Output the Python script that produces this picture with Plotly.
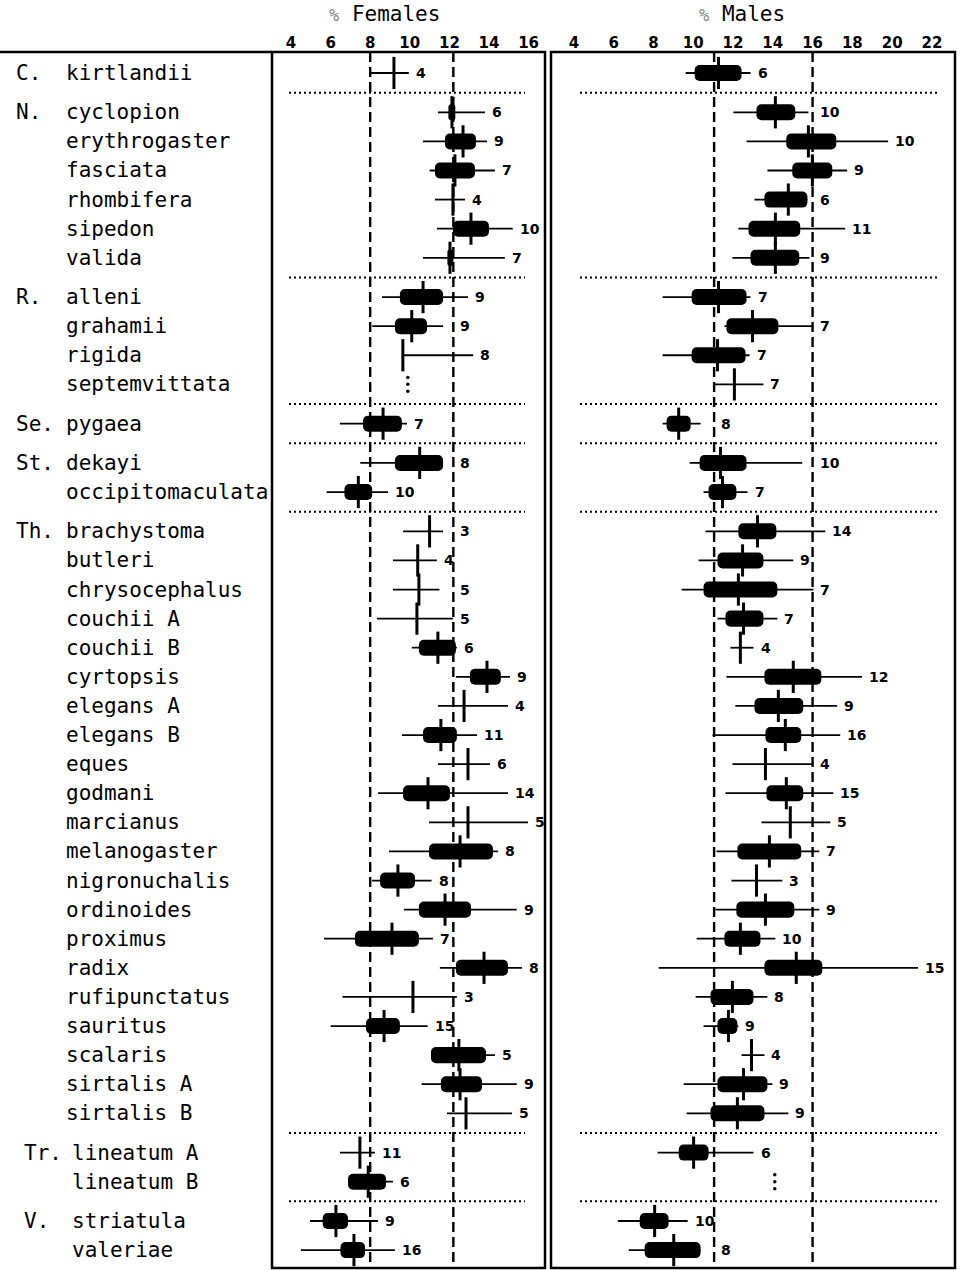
import plotly.graph_objects as go

W, H = 965, 1270

# ---- data -------------------------------------------------------------
genera = ["C.", "N.", "R.", "Se.", "St.", "Th.", "Tr.", "V."]
species = [
    ["kirtlandii"],
    ["cyclopion", "erythrogaster", "fasciata", "rhombifera", "sipedon", "valida"],
    ["alleni", "grahamii", "rigida", "septemvittata"],
    ["pygaea"],
    ["dekayi", "occipitomaculata"],
    ["brachystoma", "butleri", "chrysocephalus", "couchii A", "couchii B",
     "cyrtopsis", "elegans A", "elegans B", "eques", "godmani", "marcianus",
     "melanogaster", "nigronuchalis", "ordinoides", "proximus", "radix",
     "rufipunctatus", "sauritus", "scalaris", "sirtalis A", "sirtalis B"],
    ["lineatum A", "lineatum B"],
    ["striatula", "valeriae"],
]

# % Females: range (lo, hi), box (box_lo, box_hi), mean, sample size
f_lo = [8.0, 11.42, 10.67, 11.0, 11.27, 11.37, 10.67, 8.6, 8.1, 9.6, None, 6.47,
        7.5, 5.8, 9.66, 9.15, 9.15, 8.34, 10.1, 12.33, 11.42, 9.6, 11.42, 8.4,
        10.97, 8.95, 8.1, 9.7, 5.67, 11.52, 6.6, 6.0, 11.07, 10.6, 11.88, 6.47,
        6.88, 4.96, 4.5]
f_hi = [9.95, 13.8, 13.9, 14.3, 12.79, 15.2, 14.8, 12.94, 11.68, 13.2, None, 9.86,
        11.68, 8.9, 11.68, 11.37, 11.5, 12.18, 12.38, 15.06, 14.96, 13.4, 14.05,
        14.96, 15.97, 14.45, 11.1, 15.4, 11.17, 15.67, 12.38, 10.9, 14.3, 15.4,
        15.16, 8.24, 9.15, 8.4, 9.25]
f_box_lo = [None, 11.95, 11.78, 11.27, None, 12.18, 11.9, 9.5, 9.25, None, None,
            7.64, 9.25, 6.7, None, None, None, None, 10.46, 13.04, None, 10.67,
            None, 9.66, None, 10.97, 8.5, 10.46, 7.23, 12.33, None, 7.79, 11.07,
            11.57, None, None, 6.88, 5.6, 6.5]
f_box_hi = [None, 12.3, 13.34, 13.29, None, 14.0, 12.2, 11.68, 10.87, None, None,
            9.6, 11.68, 8.1, None, None, None, None, 12.33, 14.6, None, 12.38,
            None, 12.03, None, 14.2, 10.26, 13.09, 10.46, 14.96, None, 9.5, 13.85,
            13.65, None, None, 8.8, 6.88, 7.74]
f_mean = [9.2, 12.13, 12.69, 12.28, 12.18, 13.09, 12.03, 10.67, 10.1, 9.65, None,
          8.65, 10.5, 7.4, 11.0, 10.4, 10.46, 10.36, 11.42, 13.9, 12.74, 11.57,
          12.94, 10.92, 12.94, 12.54, 9.4, 11.78, 9.1, 13.75, 10.16, 8.7, 12.48,
          12.54, 12.84, 7.48, 7.9, 6.27, 7.18]
f_n = [4, 6, 9, 7, 4, 10, 7, 9, 9, 8, None, 7, 8, 10, 3, 4, 5, 5, 6, 9, 4, 11, 6,
       14, 5, 8, 8, 9, 7, 8, 3, 15, 5, 9, 5, 11, 6, 9, 16]
f_nodata = {"septemvittata": 9.9}

# % Males
m_lo = [9.62, 12.02, 12.68, 13.73, 13.08, 12.27, 11.97, 8.46, 11.57, 8.46, 11.07,
        8.46, 9.82, 10.52, 10.62, 10.27, 9.42, 11.22, 11.87, 11.67, 12.12, 10.97,
        11.97, 11.62, 13.43, 11.17, 11.92, 11.12, 10.17, 8.26, 10.12, 10.52,
        12.43, 9.52, 9.67, 8.21, None, 6.21, 6.76]
m_hi = [12.88, 15.79, 19.8, 17.74, 15.74, 17.64, 15.84, 12.88, 15.99, 12.83, 13.53,
        10.37, 15.48, 12.73, 16.64, 15.03, 16.04, 14.23, 13.03, 18.49, 17.24,
        17.39, 16.04, 17.04, 16.89, 16.34, 14.48, 16.34, 14.13, 21.3, 13.73,
        12.27, 13.58, 13.98, 14.78, 13.03, None, 9.72, 10.37]
m_box_lo = [10.07, 13.18, 14.68, 14.98, 13.58, 12.78, 12.88, 9.92, 11.67, 9.92,
            None, 8.66, 10.32, 10.77, 12.27, 11.22, 10.52, 11.62, None, 13.58,
            13.08, 13.63, None, 13.68, None, 12.22, None, 12.17, 11.57, 13.58,
            10.87, 11.22, None, 11.22, 10.87, 9.27, None, 7.31, 7.56]
m_box_hi = [12.43, 15.13, 17.19, 16.99, 15.74, 15.38, 15.33, 12.68, 14.28, 12.63,
            None, 9.87, 12.68, 12.17, 14.18, 13.53, 14.23, 13.53, None, 16.44,
            15.53, 15.43, None, 15.53, None, 15.43, None, 15.08, 13.38, 16.49,
            13.03, 12.22, None, 13.73, 13.58, 10.77, None, 8.76, 10.37]
m_mean = [11.27, 14.13, 15.79, 15.99, 14.78, 14.13, 14.13, 11.27, 12.98, 11.22,
          12.07, 9.27, 11.37, 11.47, 13.23, 12.48, 12.27, 12.53, 12.37, 15.03,
          14.28, 14.63, 13.63, 14.68, 14.88, 13.83, 13.18, 13.63, 12.37, 15.18,
          11.97, 11.77, 12.93, 12.53, 12.22, 10.02, None, 8.06, 9.02]
m_n = [6, 10, 10, 9, 6, 11, 9, 7, 7, 7, 7, 8, 10, 7, 14, 9, 7, 7, 4, 12, 9, 16, 4,
       15, 5, 7, 3, 9, 10, 15, 8, 9, 4, 9, 9, 6, None, 10, 8]
m_nodata = {"lineatum B": 14.1}

f_ref = [8.0, 12.2]     # dashed reference lines
m_ref = [11.05, 16.0]
f_ticks = [4, 6, 8, 10, 12, 14, 16]
m_ticks = [4, 6, 8, 10, 12, 14, 16, 18, 20, 22]

# ---- geometry ---------------------------------------------------------
TOP, BOT = 52, 1268          # panel frame (px)
ROW0, ROW_H, GAP = 73, 29.1, 0.35
F_X0, F_X1 = 272, 545
M_X0, M_X1 = 551, 955
f_range = [3.04, 16.83]
m_range = [2.85, 23.16]

y_top = -(ROW0 - TOP) / ROW_H
y_bot = y_top + (BOT - TOP) / ROW_H

def px(x):
    return x / W

def py(y):
    return 1 - y / H

rows_y, row_names, first_rows, sep_y = [], [], [], []
i = 0
for g, names in enumerate(species):
    for k, nm in enumerate(names):
        yy = i + GAP * g
        rows_y.append(yy)
        row_names.append(nm)
        if k == 0:
            first_rows.append((g, yy))
        i += 1
    if g < len(species) - 1:
        sep_y.append(rows_y[-1] + (1 + GAP) / 2)

MONO = "DejaVu Sans Mono"
fig = go.Figure()
annotations = []
shapes = []


def add_panel(xa, lo, hi, blo, bhi, mean, n, refs, nodata):
    lx, ly = [], []
    for a, b, y in zip(lo, hi, rows_y):
        if a is None:
            continue
        lx += [a, b, None]
        ly += [y, y, None]
    fig.add_trace(go.Scatter(x=lx, y=ly, mode="lines", xaxis=xa, yaxis="y",
                             line=dict(color="black", width=1.8),
                             hoverinfo="skip", showlegend=False))
    by, bx, bb = [], [], []
    for a, b, y in zip(blo, bhi, rows_y):
        if a is None:
            continue
        by.append(y)
        bx.append(b - a)
        bb.append(a)
    fig.add_trace(go.Bar(y=by, x=bx, base=bb, orientation="h", width=0.55,
                         xaxis=xa, yaxis="y", marker=dict(color="black", line_width=0),
                         showlegend=False, hoverinfo="skip"))
    my = [y for m, y in zip(mean, rows_y) if m is not None]
    mx = [m for m in mean if m is not None]
    fig.add_trace(go.Scatter(x=mx, y=my, mode="markers", xaxis=xa, yaxis="y",
                             marker=dict(symbol="line-ns", size=23,
                                         line=dict(color="black", width=3)),
                             hoverinfo="skip", showlegend=False))
    # sample sizes
    for b, c, y in zip(hi, n, rows_y):
        if c is None:
            continue
        anchor = b
        for r in refs:
            if b - 0.1 <= r <= b + 0.7:
                anchor = max(anchor, r)
        annotations.append(dict(x=anchor, y=y, xref=xa, yref="y", text=str(c),
                                showarrow=False, xanchor="left", yanchor="middle",
                                xshift=5, font=dict(family="DejaVu Sans", size=14,
                                                    color="black", weight="bold")))
    # species without data: vertical ellipsis
    ex, ey = [], []
    for nm, xv in nodata.items():
        y = rows_y[row_names.index(nm)]
        for d in (-0.24, 0, 0.24):
            ex.append(xv)
            ey.append(y + d)
    fig.add_trace(go.Scatter(x=ex, y=ey, mode="markers", xaxis=xa, yaxis="y",
                             marker=dict(color="black", size=3.5),
                             hoverinfo="skip", showlegend=False))
    # dashed reference lines
    for r in refs:
        shapes.append(dict(type="line", xref=xa, yref="y domain", x0=r, x1=r,
                           y0=0.005, y1=1, line=dict(color="black", width=2.4,
                                                     dash="10px,5px")))


add_panel("x", f_lo, f_hi, f_box_lo, f_box_hi, f_mean, f_n, f_ref, f_nodata)
add_panel("x2", m_lo, m_hi, m_box_lo, m_box_hi, m_mean, m_n, m_ref, m_nodata)

# dotted genus separators
for y in sep_y:
    shapes.append(dict(type="line", xref="paper", yref="y", x0=px(289), x1=px(525),
                       y0=y, y1=y, line=dict(color="black", width=2, dash="2px,3px")))
    shapes.append(dict(type="line", xref="paper", yref="y", x0=px(580), x1=px(937),
                       y0=y, y1=y, line=dict(color="black", width=2, dash="2px,3px")))

# panel frames and header rule
frame = dict(color="black", width=2.5)
shapes.append(dict(type="rect", xref="paper", yref="paper", x0=px(F_X0), x1=px(F_X1),
                   y0=py(BOT), y1=py(TOP), line=frame))
shapes.append(dict(type="rect", xref="paper", yref="paper", x0=px(M_X0), x1=px(M_X1),
                   y0=py(BOT), y1=py(TOP), line=frame))
shapes.append(dict(type="line", xref="paper", yref="paper", x0=0, x1=px(F_X0),
                   y0=py(TOP), y1=py(TOP), line=frame))

# species labels
for g, yy in first_rows:
    gx = 22 if genera[g] in ("Tr.", "V.") else 14
    annotations.append(dict(x=px(gx), y=yy, xref="paper", yref="y", text=genera[g],
                            showarrow=False, xanchor="left", yanchor="middle",
                            font=dict(family=MONO, size=21, color="black")))
for nm, yy in zip(row_names, rows_y):
    g = [k for k, names in enumerate(species) if nm in names][0]
    sx = 70 if genera[g] in ("Tr.", "V.") else 64
    annotations.append(dict(x=px(sx), y=yy, xref="paper", yref="y", text=nm,
                            showarrow=False, xanchor="left", yanchor="middle",
                            font=dict(family=MONO, size=21, color="black")))

# panel titles
for txt, cx in (("Females", 384), ("Males", 742)):
    annotations.append(dict(x=px(cx), y=py(14), xref="paper", yref="paper",
                            text="<span style='color:#888;font-size:17px'>%</span> " + txt,
                            showarrow=False, xanchor="center", yanchor="middle",
                            font=dict(family=MONO, size=21, color="black")))

axis_common = dict(side="top", showgrid=False, zeroline=False, showline=False,
                   ticks="", tickfont=dict(family="DejaVu Sans", size=15,
                                           color="black", weight="bold"),
                   fixedrange=True)
fig.update_layout(
    width=W, height=H,
    margin=dict(l=0, r=0, t=0, b=0),
    paper_bgcolor="white", plot_bgcolor="white",
    barmode="overlay", barcornerradius=5,
    xaxis=dict(domain=[px(F_X0), px(F_X1)], range=f_range, tickvals=f_ticks,
               anchor="y", **axis_common),
    xaxis2=dict(domain=[px(M_X0), px(M_X1)], range=m_range, tickvals=m_ticks,
                anchor="y", **axis_common),
    yaxis=dict(domain=[py(BOT), py(TOP)], range=[y_bot, y_top], visible=False,
               fixedrange=True),
    shapes=shapes,
    annotations=annotations,
    showlegend=False,
)

fig.write_html("out.html")
